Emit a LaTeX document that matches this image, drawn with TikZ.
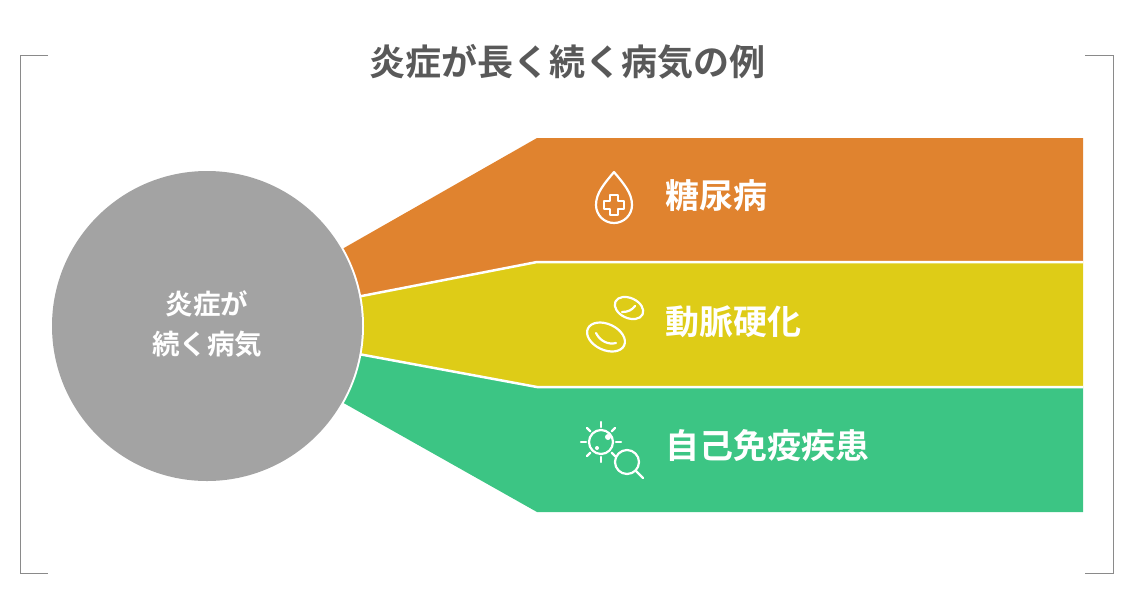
\documentclass[tikz,border=0pt]{standalone}
\usepackage{fontspec}
\newfontfamily\cjk{Noto Sans CJK JP}[BoldFont={Noto Sans CJK JP Bold}]
\definecolor{band1}{HTML}{E0832F}
\definecolor{band2}{HTML}{DECC17}
\definecolor{band3}{HTML}{3CC584}
\definecolor{hub}{HTML}{A3A3A3}
\definecolor{frame}{HTML}{8A8A8A}
\tikzset{
  label/.style={anchor=west,text=white,font=\cjk\bfseries\fontsize{34}{38}\selectfont},
  icon/.style={white,line width=2.2pt,line cap=round,line join=round},
  sep/.style={white,line width=2.5pt}
}
\begin{document}
\begin{tikzpicture}[x=1pt,y=-1pt]
  \useasboundingbox (0,0) rectangle (1134,590);
  % frame
  \draw[frame,line width=1pt] (48,55) -- (20,55) -- (20,573) -- (48,573);
  \draw[frame,line width=1pt] (1085,55) -- (1113,55) -- (1113,573) -- (1085,573);
  \node[text=black!65,font=\cjk\bfseries\fontsize{36}{40}\selectfont] (title) at (567,62) {炎症が長く続く病気の例};
  % bands
  \fill[band1] (207,326) -- (537,138) -- (1083,138) -- (1083,262) -- (537,262) -- cycle;
  \fill[band2] (207,326) -- (537,262) -- (1083,262) -- (1083,387) -- (537,387) -- cycle;
  \fill[band3] (207,326) -- (537,387) -- (1083,387) -- (1083,512) -- (537,512) -- cycle;
  \draw[sep] (207,326) -- (537,262) -- (1083,262);
  \draw[sep] (207,326) -- (537,387) -- (1083,387);
  % hub
  \fill[white] (207,326) circle (157);
  \fill[hub] (207,326) circle (155);
  \node[align=center,text=white,font=\cjk\bfseries\fontsize{27.5}{40}\selectfont] (hubtext) at (207,324) {炎症が\\続く病気};
  % labels
  \node[label] (diab) at (662,196) {糖尿病};
  \node[label] (arter) at (662,322) {動脈硬化};
  \node[label] (auto) at (662,446) {自己免疫疾患};
  % icons
  \draw[icon] (614,172) .. controls (604,184) and (596,193) .. (596,205)
    arc (180:0:18) .. controls (632,193) and (624,184) .. (614,172);
  \draw[icon] (610,195) -- (618,195) -- (618,201) -- (624,201) -- (624,209) -- (618,209)
    -- (618,215) -- (610,215) -- (610,209) -- (604,209) -- (604,201) -- (610,201) -- cycle;
  \draw[icon] (606,337) ellipse[x radius=20,y radius=13,rotate=-25];
  \draw[icon] (596,333) .. controls (600,341) and (608,345) .. (616,343);
  \draw[icon] (629,308) ellipse[x radius=15,y radius=10,rotate=-25];
  \draw[icon] (622,312) .. controls (628,312) and (632,310) .. (635,306);
  \draw[icon] (601,442) circle (12);
  \foreach \a in {0,45,...,315}
    \draw[icon] (601,442) ++(\a:15) -- ++(\a:5);
  \fill[white] (608,437) circle (3) (597,448) circle (2);
  \draw[icon,fill=band3] (627,462) circle (12);
  \draw[icon] (635.5,470.5) -- (643,478);
\end{tikzpicture}
\end{document}
